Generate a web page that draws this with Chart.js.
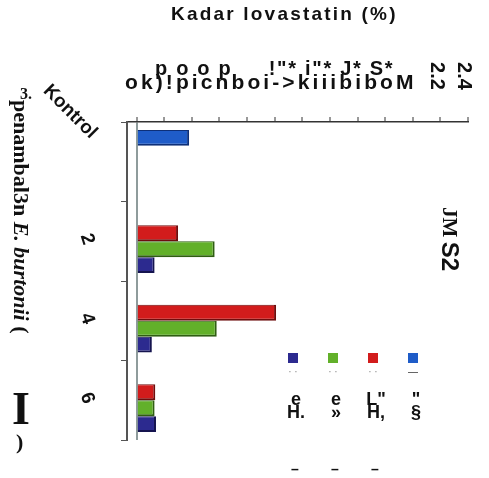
<!DOCTYPE html>
<html>
<head>
<meta charset="utf-8">
<script src="https://cdn.jsdelivr.net/npm/chart.js@4.4.0/dist/chart.umd.min.js"></script>
<style>
  html, body { margin: 0; padding: 0; background: #fff; }
  #wrap { position: relative; width: 489px; height: 478px; overflow: hidden; font-family: 'Liberation Sans', Arial, sans-serif; color: #111; }
  #chart { position: absolute; left: 0; top: 0; }
  .abs { position: absolute; white-space: pre; }
  #title { left: 171px; top: 3px; font-weight: bold; font-size: 19px; letter-spacing: 2.2px; }
  #yTitle { left: 8px; top: 100px; writing-mode: vertical-rl; font: bold 22px 'Liberation Serif', 'Times New Roman', serif; }
  #num { left: 20px; top: 85px; font: bold 16px 'Liberation Serif', serif; }
  #bigI { left: 12px; top: 386px; font: bold 46px/46px 'Liberation Serif', serif; }
  #paren { left: 16px; top: 431px; font: bold 22px/22px 'Liberation Serif', serif; }
  #sideTxt { left: 436px; top: 207px; writing-mode: vertical-rl; font-weight: bold; }
  #legend { left: 283px; top: 353px; display: flex; }
  .item { position: relative; width: 40px; height: 120px; }
  .box { position: absolute; left: 5px; top: 0; width: 10px; height: 10px; }
  .mark { position: absolute; left: 0; top: 14px; width: 20px; text-align: center; font-size: 10px; line-height: 10px; color: #888; }
  .lab { position: absolute; left: 1px; top: 40px; width: 24px; text-align: center; font-weight: bold; font-size: 18px; line-height: 13px; }
  .foot { position: absolute; left: 0; top: 110px; width: 24px; text-align: center; font-weight: bold; font-size: 14px; line-height: 12px; }
</style>
</head>
<body>
<div id="wrap">
  <canvas id="chart" width="489" height="478"></canvas>
  <div id="title" class="abs">Kadar lovastatin (%)</div>
  <div id="num" class="abs">3.</div>
  <div id="yTitle" class="abs">penambal3n <i>E. burtonii</i> (</div>
  <div id="bigI" class="abs">I</div>
  <div id="paren" class="abs">)</div>
  <div id="sideTxt" class="abs"><span style="font: bold 21px 'Liberation Serif', serif">JM</span> <span style="font-size: 24px">S2</span></div>
  <div id="legend" class="abs"></div>
</div>
<script>
// category labels (y axis) and series values
const categories = ['Kontrol', '2', '4', '6'];
const kontrolValues = [0.38, null, null, null];
const redValues = [null, 0.30, 1.01, 0.135];
const greenValues = [null, 0.565, 0.58, 0.13];
const navyValues = [null, 0.13, 0.11, 0.14];

// legend text (as printed) and extra marks
const seriesLabels = ['"\n§', 'L"\nH,', 'e\n»', 'e\nH.'];
const legendMarks = ['—', '· ·', '· ·', '· ·'];
const legendFeet = ['', '–', '–', '–'];

// top axis text
const axisLine1 = 'p o o p     !"* i"* J* S*';
const axisLine2 = 'ok)!picnboi->kiiibiboM';
const rotatedTicks = [2.2, 2.4];
const axisMin = -0.07;
const axisMax = 2.4;
const axisStep = 0.2;

const colors = ['#1f5cc8', '#d21c1c', '#62b02a', '#2c2a8f'];
const edges = ['#0d2f78', '#6e0d0d', '#2f5e12', '#15144f'];

const FONT = '"Liberation Sans", Arial, sans-serif';

// draws the rotated category labels and the top axis text
const extraText = {
  id: 'extraText',
  afterDraw(chart) {
    const { ctx, scales: { x, y } } = chart;
    ctx.save();
    ctx.fillStyle = '#111';
    ctx.font = 'bold 19px ' + FONT;
    ctx.textAlign = 'center';
    ctx.textBaseline = 'middle';
    categories.forEach((c, i) => {
      const py = y.getPixelForValue(i);
      ctx.save();
      if (i === 0) {
        ctx.translate(x.left - 57, py - 50);
        ctx.rotate(Math.PI / 4);
      } else {
        ctx.translate(x.left - 40, py - 2);
        ctx.rotate(Math.PI * 0.4);
      }
      ctx.fillText(c, 0, 0);
      ctx.restore();
    });

    ctx.textAlign = 'left';
    ctx.textBaseline = 'alphabetic';
    ctx.font = 'bold 21px ' + FONT;
    ctx.letterSpacing = '3.1px';
    ctx.fillText(axisLine2, x.left - 2, x.top - 28);
    ctx.font = 'bold 20px ' + FONT;
    ctx.letterSpacing = '1.7px';
    ctx.fillText(axisLine1, x.left + 28, x.top - 42);

    ctx.letterSpacing = '0px';
    ctx.font = 'bold 20px ' + FONT;
    ctx.textAlign = 'center';
    ctx.textBaseline = 'middle';
    rotatedTicks.forEach(v => {
      ctx.save();
      ctx.translate(x.getPixelForValue(v) - 4, x.top - 41);
      ctx.rotate(Math.PI / 2);
      ctx.fillText(v.toFixed(1), 0, 0);
      ctx.restore();
    });
    ctx.restore();
  }
};

const valueSets = [kontrolValues, redValues, greenValues, navyValues];

const chart = new Chart(document.getElementById('chart'), {
  type: 'bar',
  data: {
    labels: categories,
    datasets: valueSets.map((vals, i) => ({
      label: seriesLabels[i],
      data: vals,
      backgroundColor: colors[i],
      borderColor: edges[i],
      borderWidth: { top: 1, right: 2, bottom: 2, left: 0 },
      borderSkipped: 'start',
      categoryPercentage: 0.8,
      barPercentage: 1.0,
    })),
  },
  options: {
    indexAxis: 'y',
    responsive: false,
    animation: false,
    layout: { padding: { left: 121, top: 117, right: 21, bottom: 38 } },
    plugins: {
      legend: { display: false },
      tooltip: { enabled: false },
    },
    scales: {
      x: {
        type: 'linear',
        position: 'top',
        min: axisMin,
        max: axisMax,
        ticks: { display: false, stepSize: axisStep, includeBounds: false },
        grid: {
          color: c => (c.tick && c.tick.value === 0 ? '#8f9c9c' : 'rgba(0,0,0,0)'),
          lineWidth: 2,
          tickColor: '#333',
          tickWidth: 1,
          tickLength: 5,
        },
        border: { color: '#333', width: 1.5 },
      },
      y: {
        type: 'category',
        ticks: { display: false },
        grid: { offset: true, drawOnChartArea: false, tickLength: 6, tickColor: '#555' },
        border: { color: '#555', width: 2 },
      },
    },
  },
  plugins: [extraText],
});

// html legend, left to right in reverse dataset order
const legendEl = document.getElementById('legend');
chart.data.datasets.map((ds, i) => i).reverse().forEach(i => {
  const ds = chart.data.datasets[i];
  const item = document.createElement('div');
  item.className = 'item';
  item.innerHTML =
    '<div class="box" style="background:' + ds.backgroundColor + '"></div>' +
    '<div class="mark"' + (legendMarks[i] === '—' ? ' style="color:#333"' : '') + '>' + legendMarks[i] + '</div>' +
    '<div class="lab"></div>' +
    '<div class="foot">' + legendFeet[i] + '</div>';
  item.querySelector('.lab').textContent = ds.label;
  legendEl.appendChild(item);
});
</script>
</body>
</html>
